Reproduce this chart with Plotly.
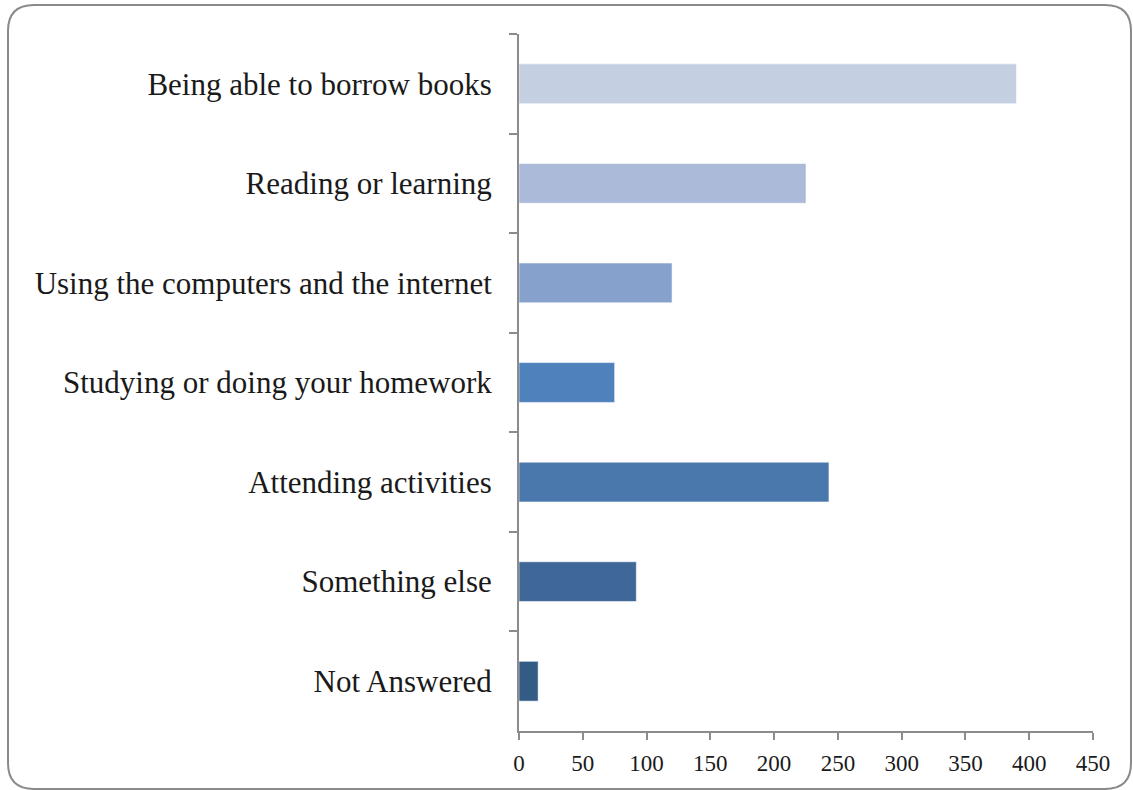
import plotly.graph_objects as go

categories = [
    "Being able to borrow books",
    "Reading or learning",
    "Using the computers and the internet",
    "Studying or doing your homework",
    "Attending activities",
    "Something else",
    "Not Answered",
]
values = [390, 225, 120, 75, 243, 92, 15]
bar_colors = ["#c4d0e2", "#aabad8", "#86a2cc", "#4f81bd", "#4a77ac", "#3f6898", "#345a86"]
x_ticks = [0, 50, 100, 150, 200, 250, 300, 350, 400, 450]

W, H = 1133, 790
L, R, T, B = 519, 1093, 34, 731

def px(x):
    return (x - L) / (R - L)

def py(y):
    return (B - y) / (B - T)

fig = go.Figure(go.Bar(
    y=categories,
    x=values,
    orientation="h",
    marker=dict(color=bar_colors, line=dict(color="rgba(255,255,255,0.55)", width=1)),
    width=0.4,
))

# rounded border
x0, y0, x1, y1, r = 8, 5, 1131, 789, 26
path = (
    f"M {px(x0 + r)},{py(y0)} L {px(x1 - r)},{py(y0)} "
    f"Q {px(x1)},{py(y0)} {px(x1)},{py(y0 + r)} "
    f"L {px(x1)},{py(y1 - r)} Q {px(x1)},{py(y1)} {px(x1 - r)},{py(y1)} "
    f"L {px(x0 + r)},{py(y1)} Q {px(x0)},{py(y1)} {px(x0)},{py(y1 - r)} "
    f"L {px(x0)},{py(y0 + r)} Q {px(x0)},{py(y0)} {px(x0 + r)},{py(y0)} Z"
)

fig.update_layout(
    width=W, height=H,
    margin=dict(l=L, r=W - R, t=T, b=H - B),
    paper_bgcolor="white", plot_bgcolor="white",
    showlegend=False,
    font=dict(family="Liberation Serif", color="#1a1a1a"),
    shapes=[dict(type="path", xref="paper", yref="paper", path=path,
                 line=dict(color="#8a8a8a", width=2), layer="above")],
    xaxis=dict(
        range=[0, 450], tickvals=x_ticks, ticktext=[str(v) for v in x_ticks],
        showgrid=False, zeroline=False,
        showline=True, linecolor="#8c8c8c", linewidth=2,
        ticks="outside", ticklen=7, tickwidth=2, tickcolor="#8c8c8c",
        ticklabelstandoff=3,
        tickfont=dict(size=23, family="Liberation Serif", color="#1a1a1a"),
    ),
    yaxis=dict(
        categoryorder="array", categoryarray=categories, autorange="reversed",
        showgrid=False, zeroline=False,
        showline=True, linecolor="#8c8c8c", linewidth=2,
        ticks="outside", ticklen=8, tickwidth=2, tickcolor="#8c8c8c",
        tickson="boundaries", ticklabelstandoff=19,
        tickfont=dict(size=31, family="Liberation Serif", color="#1a1a1a"),
    ),
)

fig.write_html("out.html", config={"displayModeBar": False},
               post_script="document.body.style.margin='0';")
